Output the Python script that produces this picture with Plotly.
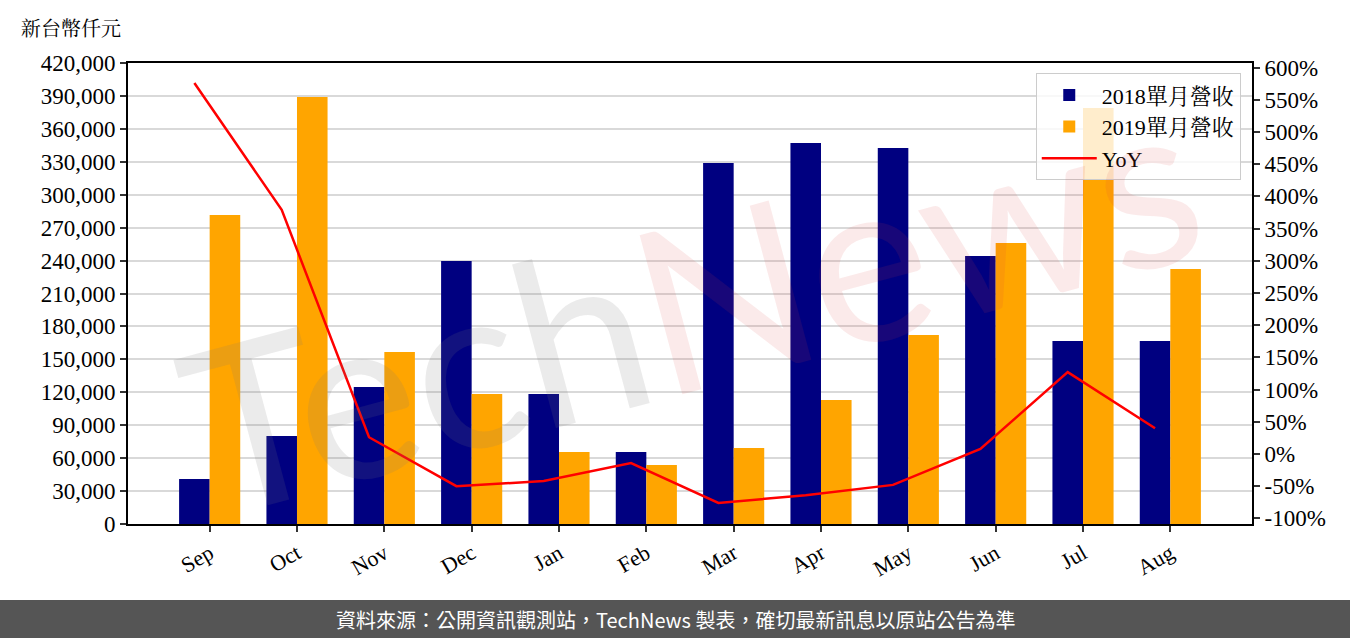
import plotly.graph_objects as go

months = ["Sep", "Oct", "Nov", "Dec", "Jan", "Feb", "Mar", "Apr", "May", "Jun", "Jul", "Aug"]
rev_2018 = [41000, 80200, 124800, 239600, 118400, 65600, 328900, 347100, 342500, 244200, 166700, 166700]
rev_2019 = [281500, 389000, 156700, 118400, 65600, 53750, 69200, 113000, 172200, 256000, 379000, 232300]
yoy_pct = [576, 379, 26, -50, -42, -14, -76, -64, -48, 8, 127, 40]

left_ticks = list(range(0, 420001, 30000))
right_ticks = list(range(-100, 601, 50))
right_labels = [f"{v}%" for v in right_ticks]

idx = list(range(len(months)))
bar_w = 0.35
line_x = [i - bar_w / 2 for i in idx]

SERIF = "Liberation Serif, Noto Serif CJK TC, Noto Sans CJK TC, serif"

fig = go.Figure()
fig.add_trace(go.Bar(x=idx, y=rev_2018, name="2018單月營收", marker_color="#000080",
                     width=bar_w, offset=-bar_w, marker_line_width=0))
fig.add_trace(go.Bar(x=idx, y=rev_2019, name="2019單月營收", marker_color="#FFA500",
                     width=bar_w, offset=0, marker_line_width=0))
fig.add_trace(go.Scatter(x=line_x, y=yoy_pct, name="YoY", mode="lines",
                         line=dict(color="#FF0000", width=2.5), yaxis="y2"))

W, H = 1350, 638
L, R, T, B = 128, 98, 63, 114
pw, ph = W - L - R, H - T - B

def px(xp):
    return (xp - L) / pw

def py(yp):
    return (H - B - yp) / ph

fig.update_layout(
    width=W, height=H,
    margin=dict(l=L, r=R, t=T, b=B, pad=0),
    plot_bgcolor="white", paper_bgcolor="white",
    barmode="overlay",
    font=dict(family=SERIF, size=22, color="black"),
    showlegend=True,
    legend=dict(x=0.99, y=0.978, xanchor="right", yanchor="top",
                bgcolor="rgba(255,255,255,0.8)", bordercolor="#cccccc", borderwidth=1,
                font=dict(family=SERIF, size=22), traceorder="normal",
                itemwidth=55, tracegroupgap=0),
    xaxis=dict(range=[-0.935, 11.935], tickmode="array", tickvals=idx, ticktext=months,
               tickangle=-30, showgrid=False, zeroline=False, showline=True, mirror=True,
               linecolor="black", linewidth=2, ticks="outside", ticklen=6, tickwidth=2,
               tickcolor="#333333", tickfont=dict(size=22)),
    yaxis=dict(range=[0, 420000], tickmode="array", tickvals=left_ticks,
               tickformat=",d", showgrid=True, gridcolor="#d9d9d9", gridwidth=2,
               zeroline=False, showline=True, linecolor="black", linewidth=2,
               ticks="outside", ticklen=6, tickwidth=2, tickcolor="#333333",
               tickfont=dict(size=23)),
    yaxis2=dict(range=[-108.7, 607], overlaying="y", side="right", tickmode="array",
                tickvals=right_ticks, ticktext=right_labels, showgrid=False, zeroline=False,
                showline=True, linecolor="black", linewidth=2, ticks="outside",
                ticklen=6, tickwidth=2, tickcolor="#333333", tickfont=dict(size=23)),
)

# unit label
fig.add_annotation(text="新台幣仟元", xref="paper", yref="paper", x=px(19), y=py(27),
                   xanchor="left", yanchor="middle", showarrow=False,
                   font=dict(family="Noto Serif CJK TC, Noto Sans CJK TC, serif", size=20))

# watermark
fig.add_annotation(
    text='<span style="color:rgba(120,120,120,0.15)">Tech</span><span style="color:rgba(220,60,60,0.11)">News</span>',
    xref="paper", yref="paper", x=px(690), y=py(300), xanchor="center", yanchor="middle",
    showarrow=False, textangle=-15,
    font=dict(family="Lato, DejaVu Sans, sans-serif", size=230))

# footer band
fig.add_shape(type="rect", xref="paper", yref="paper", x0=px(0), x1=px(W), y0=py(638), y1=py(600),
              fillcolor="#555555", line_width=0, layer="above")
fig.add_annotation(text="資料來源：公開資訊觀測站，TechNews 製表，確切最新訊息以原站公告為準",
                   xref="paper", yref="paper", x=px(675), y=py(619), xanchor="center",
                   yanchor="middle", showarrow=False,
                   font=dict(family="Noto Sans CJK TC, sans-serif", size=20, color="white"))

fig.write_html("out.html", config={"displayModeBar": False},
               post_script="document.body.style.margin='0';document.body.style.padding='0';")
